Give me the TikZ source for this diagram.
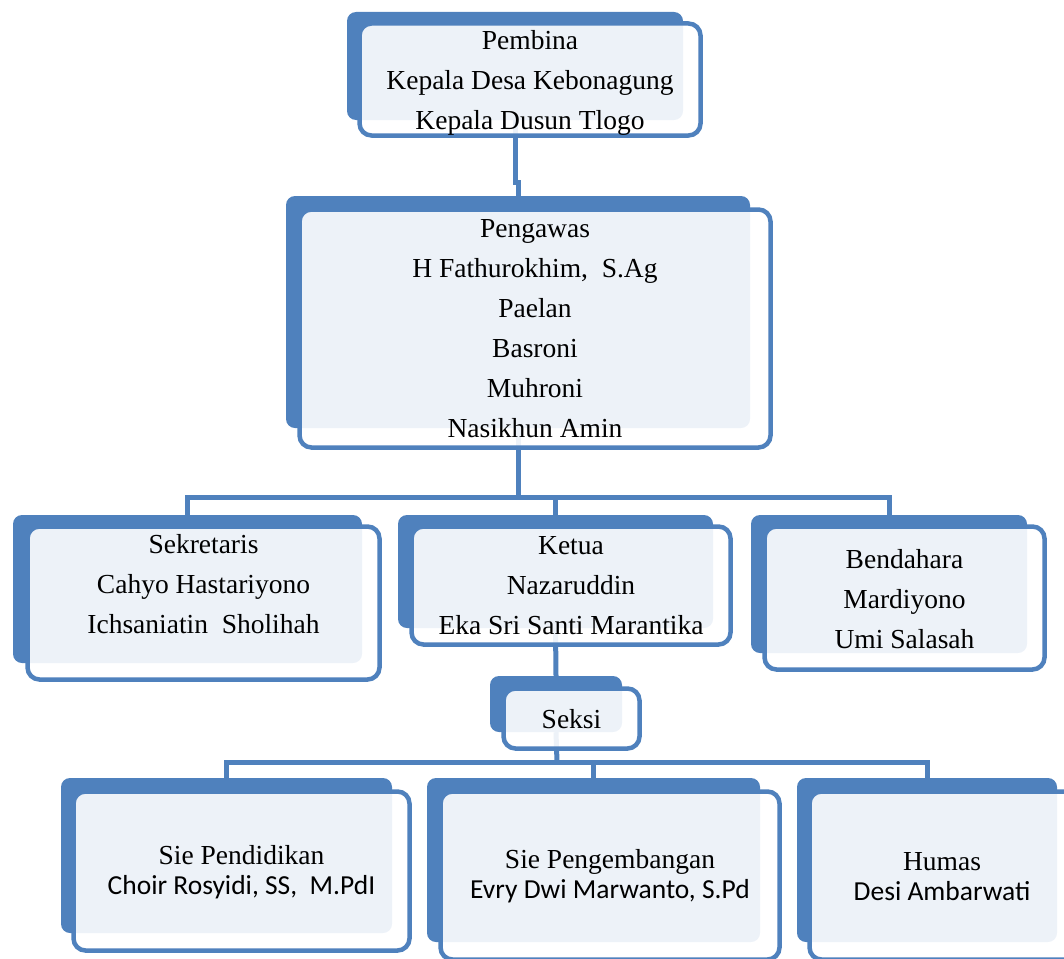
\documentclass[tikz,border=0pt]{standalone}
\usepackage{fontspec}
\setmainfont{Liberation Serif}
\newfontfamily\calibri{Carlito}
\usepackage{tikz}
\usetikzlibrary{backgrounds,positioning}
\definecolor{orgblue}{RGB}{79,129,189}

\begin{document}
\begin{tikzpicture}[x=1pt,y=-1pt,
    back/.style={rectangle,fill=orgblue,rounded corners=9pt,inner sep=0pt},
    front/.style={rectangle,draw=orgblue,line width=4.5pt,fill=white,fill opacity=0.9,rounded corners=12pt,inner sep=0pt},
    txt/.style={anchor=north,align=center,inner sep=0pt,font=\fontsize{27.5}{40}\selectfont},
    subtxt/.style={anchor=north,align=center,inner sep=0pt,font=\fontsize{27.5}{30}\selectfont},
    link/.style={draw=orgblue,line width=5pt}]
                \useasboundingbox (0,0) rectangle (1064,958);

                \node[back,minimum width=336pt,minimum height=108pt] (pembinaB) at (515,66) {};
                \node[front,minimum width=341pt,minimum height=112pt] (pembinaF) at (530,79.5) {};
                \node[txt] (pembinaT) at (530,30) {Pembina\\Kepala Desa Kebonagung\\Kepala Dusun Tlogo};

                \node[back,minimum width=464pt,minimum height=232pt] (pengawasB) at (518,312) {};
                \node[front,minimum width=471pt,minimum height=238pt] (pengawasF) at (535,328.5) {};
                \node[txt] (pengawasT) at (535,219) {Pengawas\\H Fathurokhim,\ \ S.Ag\\Paelan\\Basroni\\Muhroni\\Nasikhun Amin};

                \node[back,minimum width=349pt,minimum height=148pt] (sekretarisB) at (187.5,589) {};
                \node[front,minimum width=352pt,minimum height=153pt] (sekretarisF) at (203.5,603) {};
                \node[txt] (sekretarisT) at (203.5,534) {Sekretaris\\Cahyo Hastariyono\\Ichsaniatin\ \ Sholihah};

                \node[back,minimum width=315pt,minimum height=113pt] (ketuaB) at (555.5,571.5) {};
                \node[front,minimum width=319pt,minimum height=118pt] (ketuaF) at (571,585.5) {};
                \node[txt] (ketuaT) at (571,536) {Ketua\\Nazaruddin\\Eka Sri Santi Marantika};

                \node[back,minimum width=276pt,minimum height=138pt] (bendaharaB) at (889,584) {};
                \node[front,minimum width=280pt,minimum height=143pt] (bendaharaF) at (904.5,598) {};
                \node[txt] (bendaharaT) at (904.5,549) {Bendahara\\Mardiyono\\Umi Salasah};

                \node[back,minimum width=132pt,minimum height=56pt] (seksiB) at (556,704) {};
                \node[front,minimum width=136pt,minimum height=60pt] (seksiF) at (571.5,718.5) {};
                \node[txt] (seksiT) at (571.5,709) {Seksi};

                \node[back,minimum width=331pt,minimum height=155pt] (pendidikanB) at (226.5,855.5) {};
                \node[front,minimum width=336pt,minimum height=159pt] (pendidikanF) at (241.5,871) {};
                \node[subtxt] (pendidikanT) at (241.5,845) {Sie Pendidikan\\{\calibri Choir Rosyidi, SS,\ \ M.PdI}};

                \node[back,minimum width=333pt,minimum height=164pt] (pengembanganB) at (593.5,860) {};
                \node[front,minimum width=339pt,minimum height=168pt] (pengembanganF) at (610,875.5) {};
                \node[subtxt] (pengembanganT) at (610,849) {Sie Pengembangan\\{\calibri Evry Dwi Marwanto, S.Pd}};

                \node[back,minimum width=260pt,minimum height=164pt] (humasB) at (927,860) {};
                \node[front,minimum width=275pt,minimum height=168pt] (humasF) at (947,875.5) {};
                \node[subtxt] (humasT) at (942,852) {Humas\\{\calibri Desi Ambarwati}};

                \coordinate (fork1) at (518,497);
                \coordinate (fork2) at (557,762);

                \begin{pgfonlayer}{background}
                \draw[link] (pembinaB.south) -- ++(0,62) -| (pengawasB.north);
                \draw[link] (pengawasB.south) -- (fork1);
                \draw[link] (sekretarisB.north) |- (fork1) -| (bendaharaB.north);
                \draw[link] (ketuaB.north) -- (ketuaB.north |- fork1);
                \draw[link] (ketuaB.south) -- (seksiB.north);
                \draw[link] (seksiB.south) -- (fork2);
                \draw[link] (pendidikanB.north) |- (fork2) -| (humasB.north);
                \draw[link] (pengembanganB.north) -- (pengembanganB.north |- fork2);
                \end{pgfonlayer}
            \end{tikzpicture}
\end{document}
